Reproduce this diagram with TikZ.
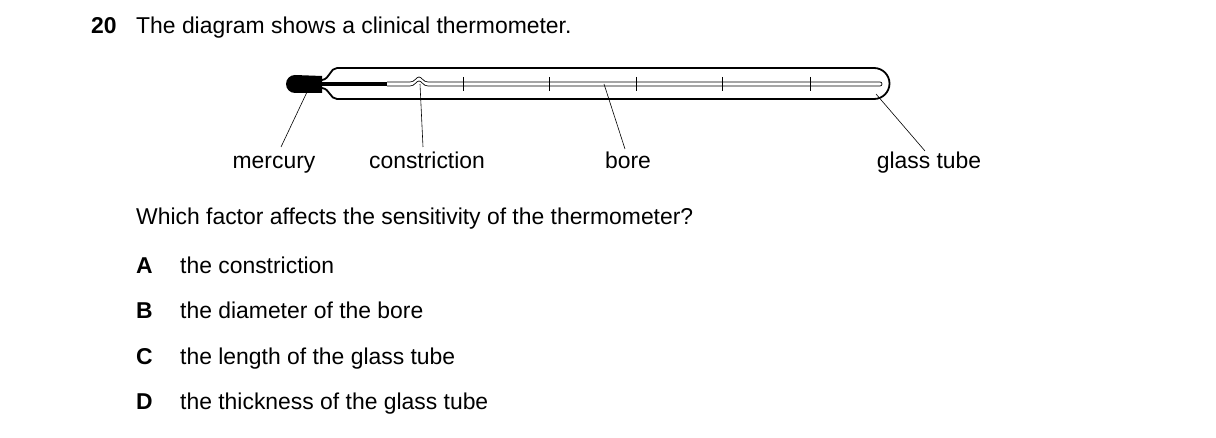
\documentclass[tikz,border=0pt]{standalone}
\usepackage{fontspec}
\setmainfont{Liberation Sans}
\begin{document}
\begin{tikzpicture}[x=1pt,y=-1pt,
  txt/.style={font=\fontsize{22.9}{26}\selectfont,inner sep=0pt,anchor=base west},
  lbl/.style={font=\fontsize{22.9}{26}\selectfont,inner sep=0pt,anchor=base},
  lead/.style={line width=0.6pt},
  tick/.style={line width=0.8pt}]
\useasboundingbox (0,0) rectangle (1216,438);
\node[txt,font=\fontsize{22.9}{26}\selectfont\bfseries] (q) at (91,34) {20};
\node[txt] (t1) at (136,34) {The diagram shows a clinical thermometer.};
% tube outline
\draw[line width=1.8pt,line join=round] (337,68) -- (874,68) arc (-90:90:15.5) -- (337,99)
  .. controls (330,99) and (330,89) .. (322,88);
\draw[line width=1.8pt] (322,80) .. controls (330,79) and (330,68) .. (337,68);
% bulb
\fill (322,76) -- (295,75) arc (-90:-270:9) -- (322,93) -- (322,76);
\fill (320,82) rectangle (387,86.5);
% bore
\draw[line width=0.7pt] (387,82) -- (410,82) .. controls (415,82) and (416,77) .. (419,77) .. controls (422,77) and (423,82) .. (428,82) -- (880,82) arc (-90:90:2) -- (428,86) .. controls (423,86) and (422,81) .. (419,81) .. controls (416,81) and (415,86) .. (410,86) -- (387,86);
\foreach \x in {463,549,636,722,810} \draw[tick] (\x,77) -- (\x,91);
% labels
\node[lbl] (m) at (274,169) {mercury};
\node[lbl] (c) at (427,169) {constriction};
\node[lbl] (b) at (628,169) {bore};
\node[lbl] (g) at (929,169) {glass tube};
\coordinate (mp) at (307,92);
\coordinate (cp) at (420,84);
\coordinate (bp) at (604,84);
\coordinate (gp) at (876,94);
\draw[lead] (mp) -- (281,147);
\draw[lead] (cp) -- (423,147);
\draw[lead] (bp) -- (625,149);
\draw[lead] (gp) -- (925,151);
\node[txt] (qq) at (136,225) {Which factor affects the sensitivity of the thermometer?};
\node[txt,font=\fontsize{22.9}{26}\selectfont\bfseries] (A) at (136,274) {A};
\node[txt] (a) at (180,274) {the constriction};
\node[txt,font=\fontsize{22.9}{26}\selectfont\bfseries] (B) at (136,319) {B};
\node[txt] (b2) at (180,319) {the diameter of the bore};
\node[txt,font=\fontsize{22.9}{26}\selectfont\bfseries] (C) at (136,364) {C};
\node[txt] (c2) at (180,364) {the length of the glass tube};
\node[txt,font=\fontsize{22.9}{26}\selectfont\bfseries] (D) at (136,409) {D};
\node[txt] (d) at (180,409) {the thickness of the glass tube};
\end{tikzpicture}
\end{document}
